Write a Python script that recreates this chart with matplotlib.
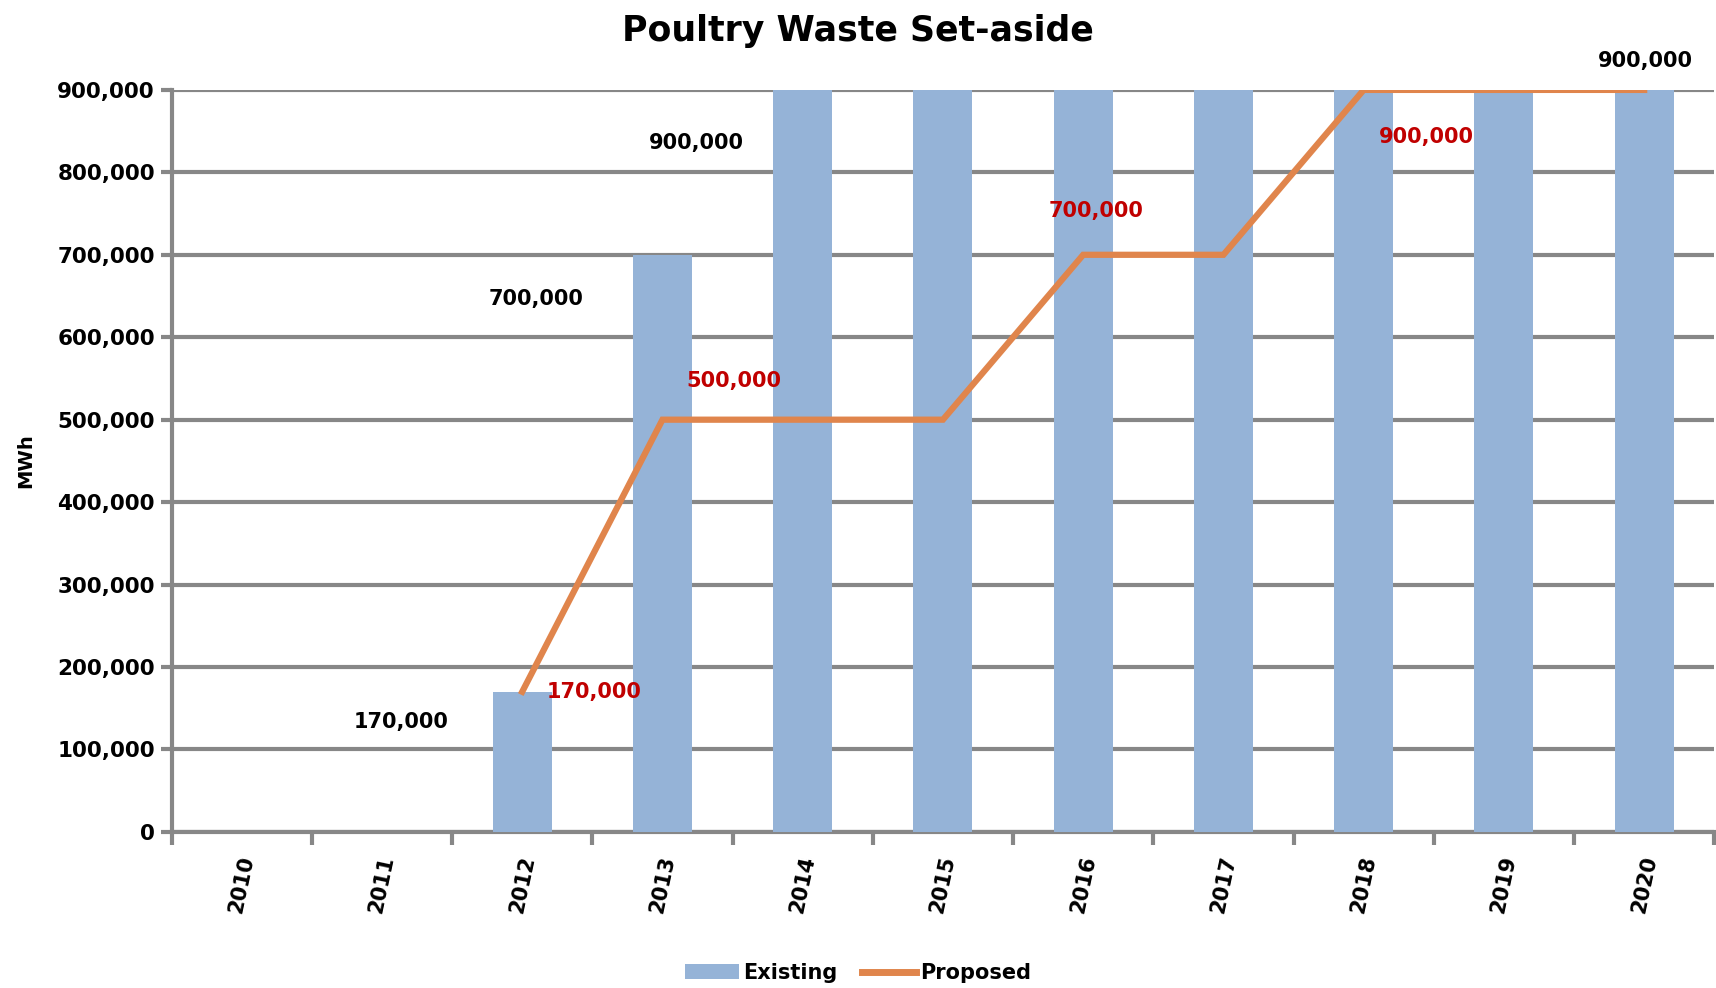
import matplotlib
matplotlib.use("Agg")
import matplotlib.pyplot as plt
from matplotlib.lines import Line2D
from matplotlib.patches import Patch
from matplotlib.ticker import FuncFormatter, MultipleLocator

years = ["2010", "2011", "2012", "2013", "2014", "2015",
         "2016", "2017", "2018", "2019", "2020"]
existing = [0, 0, 170000, 700000, 900000, 900000,
            900000, 900000, 900000, 900000, 900000]
proposed = [None, None, 170000, 500000, 500000, 500000,
            700000, 700000, 900000, 900000, 900000]

# data labels: value, and where they were dragged to (category index, y)
existing_labels = [170000, 700000, 900000, 900000]
existing_label_pos = [(1.14, 133000), (2.10, 646000), (3.24, 835000), (10.01, 935000)]
proposed_labels = [170000, 500000, 700000, 900000]
proposed_label_pos = [(2.51, 170000), (3.51, 547000), (6.09, 753000), (8.45, 843000)]

BAR_COLOR = "#95B3D7"
LINE_COLOR = "#E0854C"
GRID_COLOR = "#878787"
RED = "#C00000"
FONT = "DejaVu Sans"

plt.rcParams["font.family"] = FONT
plt.rcParams["font.weight"] = "bold"

fig = plt.figure(figsize=(17.16, 9.88), dpi=100)
ax = fig.add_axes([0.100, 0.158, 0.899, 0.751])

x = list(range(len(years)))
ax.bar(x, existing, width=0.42, color=BAR_COLOR, zorder=2)

px = [i for i, v in zip(x, proposed) if v is not None]
py = [v for v in proposed if v is not None]
ax.plot(px, py, color=LINE_COLOR, lw=4.5, zorder=3, solid_joinstyle="miter")

ax.set_xlim(-0.5, len(years) - 0.5)
ax.set_ylim(0, 900000)
ax.yaxis.set_major_locator(MultipleLocator(100000))
ax.yaxis.set_major_formatter(FuncFormatter(lambda v, p: f"{int(v):,}"))
ax.grid(axis="y", color=GRID_COLOR, lw=3, zorder=1)
ax.set_axisbelow(True)

for s in ["top", "right"]:
    ax.spines[s].set_visible(False)
for s in ["left", "bottom"]:
    ax.spines[s].set_color(GRID_COLOR)
    ax.spines[s].set_linewidth(3)
    ax.spines[s].set_zorder(1)

# category ticks sit on the boundaries, labels in the middle
ax.set_xticks([i - 0.5 for i in range(len(years) + 1)])
ax.set_xticklabels([])
ax.set_xticks(x, minor=True)
ax.set_xticklabels(years, minor=True, rotation=78, fontsize=15,
                   fontweight="bold", ha="center", va="top")
ax.tick_params(axis="x", which="major", length=9, width=3, color=GRID_COLOR)
ax.tick_params(axis="x", which="minor", length=0, pad=16)
ax.tick_params(axis="y", length=8, width=3, color=GRID_COLOR, labelsize=15.5, pad=4)
for t in ax.get_yticklabels():
    t.set_fontweight("bold")

ax.set_ylabel("MWh", fontsize=14, fontweight="bold", labelpad=16)

for v, (lx, ly) in zip(existing_labels, existing_label_pos):
    ax.text(lx, ly, f"{v:,}", ha="center", va="center", fontsize=15,
            fontweight="bold", color="black", zorder=4, clip_on=False)
for v, (lx, ly) in zip(proposed_labels, proposed_label_pos):
    ax.text(lx, ly, f"{v:,}", ha="center", va="center", fontsize=15,
            fontweight="bold", color=RED, zorder=4, clip_on=False)

fig.text(0.5, 0.969, "Poultry Waste Set-aside", ha="center", va="center",
         fontsize=25, fontweight="bold")

handles = [Patch(facecolor=BAR_COLOR, label="Existing"),
           Line2D([], [], color=LINE_COLOR, lw=5, label="Proposed")]
fig.legend(handles=handles, loc="lower center", bbox_to_anchor=(0.5, -0.014),
           ncol=2, frameon=False, handlelength=2.6,
           handletextpad=0.2, columnspacing=1.2,
           prop={"weight": "bold", "size": 15})

fig.savefig("out.png", dpi=100)
